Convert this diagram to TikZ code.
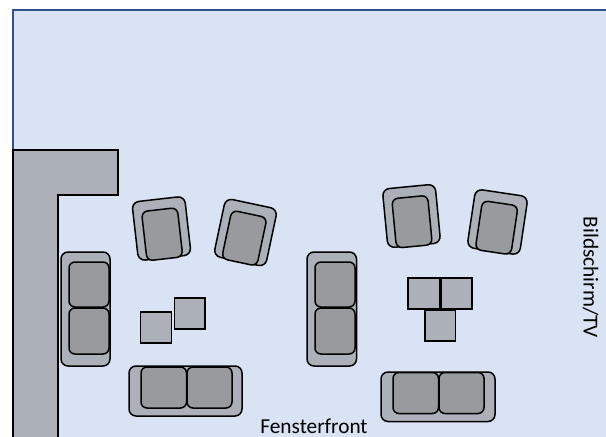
\documentclass[tikz,border=0pt]{standalone}
\usepackage{fontspec}
\setmainfont{Carlito}
\definecolor{roomfill}{HTML}{DAE3F3}
\definecolor{roomline}{HTML}{2F528F}
\definecolor{wallfill}{HTML}{ABB0B9}
\definecolor{cushfill}{HTML}{989A9D}
\tikzset{
  room/.style={fill=roomfill,draw=roomline,line width=2.5pt},
  wall/.style={fill=wallfill,draw=black,line width=1.5pt,line join=miter},
  tablebox/.style={fill=wallfill,draw=black,line width=1.5pt},
  sofabody/.style={fill=wallfill,draw=black,line width=1.5pt,rounded corners=7pt},
  cushion/.style={fill=cushfill,draw=black,line width=1.5pt,rounded corners=6pt},
  label/.style={font=\fontsize{21.3pt}{24pt}\selectfont,text=black,inner sep=0pt}
}
\newcommand{\armchair}[3]{%
  \begin{scope}[shift={(#1,#2)},rotate=#3]
    \draw[sofabody] (-26.5,29.5) rectangle (26.5,-29.5);
    \draw[cushion] (-18,19) rectangle (18,-30.5);
  \end{scope}}
\begin{document}
\begin{tikzpicture}[x=1pt,y=1pt]
\useasboundingbox (0,0) rectangle (606,-437);
% room
\begin{scope}
  \clip (0,0) rectangle (606,-437);
  \draw[room] (13,-10) rectangle (612,-445);
  \draw[wall] (13,-150) -- (118,-150) -- (118,-195) -- (58,-195) -- (58,-445) -- (13,-445) -- cycle;
\end{scope}
% sofa, left
\draw[sofabody] (61,-252) rectangle (110,-366);
\draw[cushion] (69,-262) rectangle (109,-307);
\draw[cushion] (69,-308) rectangle (109,-354);
% sofa, middle
\draw[sofabody] (307,-252) rectangle (356.5,-366);
\draw[cushion] (315,-262) rectangle (355,-307);
\draw[cushion] (315,-308) rectangle (355,-354);
% sofa, bottom left
\draw[sofabody] (129,-366) rectangle (242,-416);
\draw[cushion] (141,-367) rectangle (186.5,-408);
\draw[cushion] (187,-367) rectangle (232,-408);
% sofa, bottom right
\draw[sofabody] (381,-372) rectangle (495,-421.5);
\draw[cushion] (393,-372.5) rectangle (438.5,-413.5);
\draw[cushion] (439,-372.5) rectangle (484,-413.5);
% armchairs
\armchair{161.5}{-228.5}{6.5}
\armchair{245.5}{-232.5}{-12}
\armchair{411.5}{-216}{5.5}
\armchair{497.5}{-222}{-8.5}
% tables
\draw[tablebox] (140.5,-312) rectangle (171.5,-343);
\draw[tablebox] (174.5,-298) rectangle (205,-329);
\draw[tablebox] (408,-278) rectangle (439.5,-309);
\draw[tablebox] (441,-278) rectangle (472,-309);
\draw[tablebox] (425,-310) rectangle (455.5,-341);
% labels
\node[label] (front) at (314,-426.5) {Fensterfront};
\node[label,rotate=-90] (screen) at (590.5,-277.5) {Bildschirm/TV};
\end{tikzpicture}
\end{document}
